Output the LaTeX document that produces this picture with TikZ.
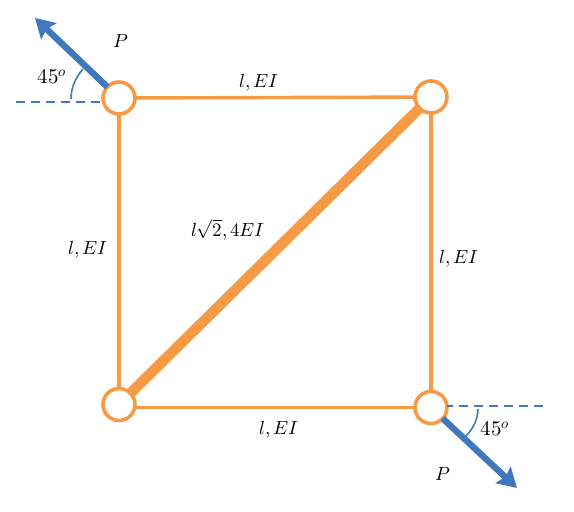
\documentclass[tikz,border=0pt]{standalone}
\usepackage{amsmath}
\usepackage{xcolor}
\usepackage{fontspec}
\usepackage{unicode-math}
\setmathfont{Latin Modern Math}
\usetikzlibrary{arrows.meta,positioning}
\definecolor{barorange}{HTML}{F79A46}
\definecolor{loadblue}{HTML}{3F78BE}
\begin{document}
\begin{tikzpicture}[x=1pt,y=-1pt,
    joint/.style={draw=barorange, line width=3.6pt, fill=white, circle, minimum size=32pt, inner sep=0pt, outer sep=0pt},
    bar/.style={draw=barorange, line width=3.4pt},
    thickbar/.style={draw=barorange, line width=10.5pt},
    load/.style={-{Stealth[length=19pt,width=22pt,inset=3pt]}, draw=loadblue, line width=6.4pt},
    guide/.style={draw=loadblue, dash pattern=on 9pt off 6pt, line width=1.6pt},
    angarc/.style={draw=loadblue, line width=1.6pt},
    lbl/.style={font=\fontsize{19}{21}\selectfont, inner sep=0pt},
    anglbl/.style={font=\fontsize{21}{23}\selectfont, inner sep=0pt}
]
    \useasboundingbox (0,0) rectangle (574,512);
    \node[joint] (tl) at (119,98) {};
    \node[joint] (tr) at (431,97) {};
    \node[joint] (bl) at (119,404.5) {};
    \node[joint] (br) at (431,407.5) {};

    \draw[bar] (tl) -- (tr);
    \draw[bar] (tr) -- (br);
    \draw[bar] (br) -- (br -| bl.east);
    \draw[bar] (bl) -- (tl);
    \draw[thickbar] (bl) -- (tr);

    \coordinate (tlguide) at (16,102);
    \coordinate (brguide) at (543,406);
    \draw[guide] (tlguide) -- (tlguide -| tl.west);
    \draw[guide] (brguide) -- (brguide -| br.east);

    \coordinate (tlend) at (35,18);
    \coordinate (brend) at (517,488);
    \draw[load] (tl) -- (tlend);
    \draw[load] (br) -- (brend);
    \draw[angarc] (71,99) .. controls (71,87) and (76,77) .. (83,69);
    \draw[angarc] (478,409) .. controls (478,419) and (473,429) .. (466,436);

    \node[lbl] (ptop) at (121,41) {$P$};
    \node[lbl] (pbot) at (443,474) {$P$};
    \node[anglbl] (angtop) at (52,77) {$45^{o}$};
    \node[anglbl] (angbot) at (495,429) {$45^{o}$};
    \node[lbl] (top) at (259,83) {$l,EI$};
    \node[lbl] (bottom) at (279,430) {$l,EI$};
    \node[lbl] (left) at (88,250) {$l,EI$};
    \node[lbl] (right) at (459,259) {$l,EI$};
    \node[lbl] (diag) at (228,230) {$l\sqrt{2},4EI$};
\end{tikzpicture}
\end{document}
